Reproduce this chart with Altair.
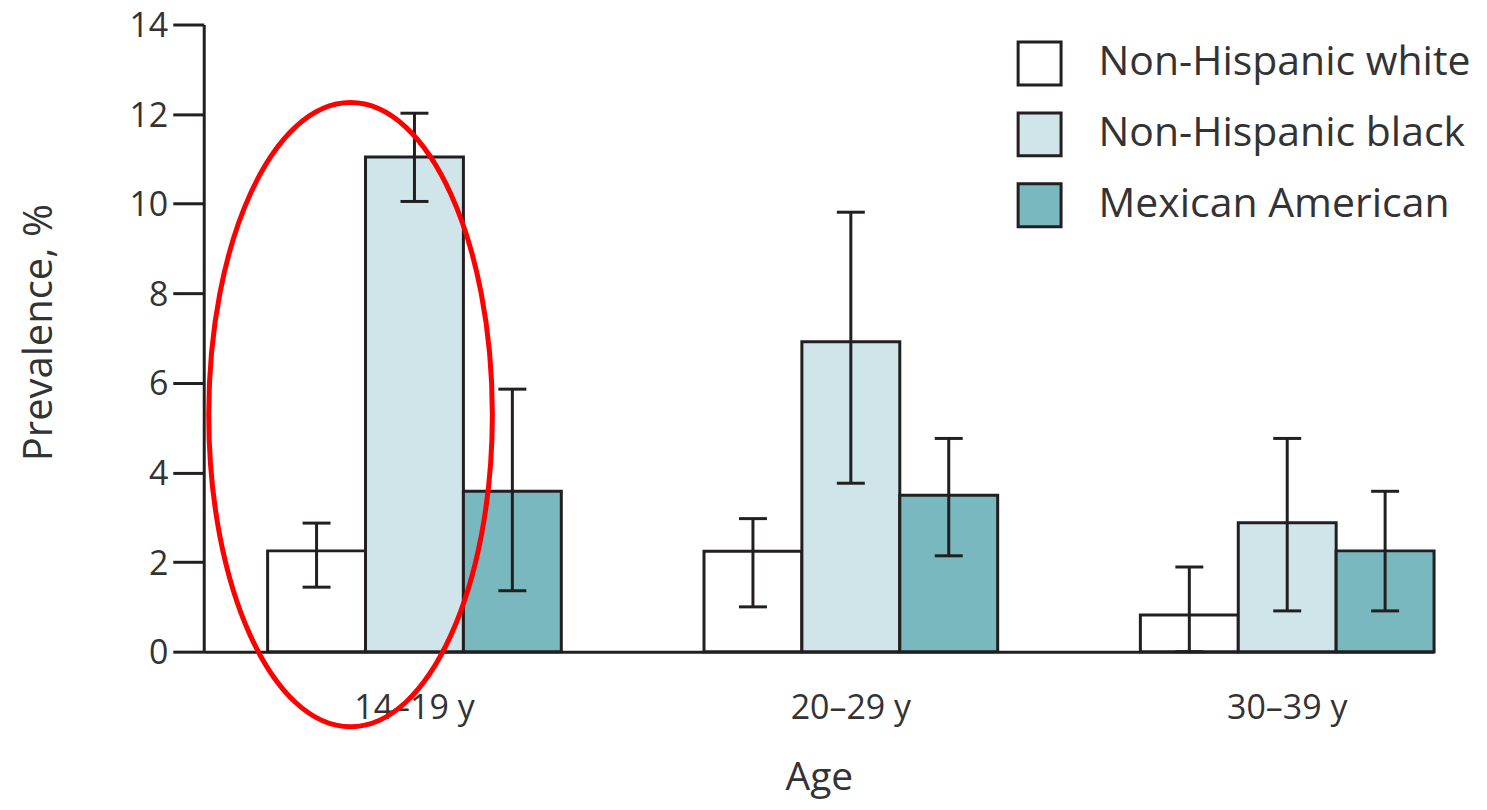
import altair as alt
import pandas as pd

groups = ["14–19 y", "20–29 y", "30–39 y"]
series = ["Non-Hispanic white", "Non-Hispanic black", "Mexican American"]

white = [2.25, 2.24, 0.82]
white_lo = [1.44, 1.00, 0.00]
white_hi = [2.87, 2.97, 1.89]

black = [11.04, 6.92, 2.88]
black_lo = [10.05, 3.76, 0.91]
black_hi = [12.02, 9.81, 4.76]

mexican = [3.58, 3.49, 2.25]
mexican_lo = [1.36, 2.14, 0.91]
mexican_hi = [5.86, 4.76, 3.58]

colors = ["#ffffff", "#cfe5ea", "#78b8be"]

# highlighted group (annotation ellipse), centred on this category/value
highlight_group = ["14–19 y"]
highlight_value = [5.29]

rows = []
for s, vals, los, his in [
    (series[0], white, white_lo, white_hi),
    (series[1], black, black_lo, black_hi),
    (series[2], mexican, mexican_lo, mexican_hi),
]:
    for g, v, lo, hi in zip(groups, vals, los, his):
        rows.append({"Age": g, "Group": s, "value": v, "lo": lo, "hi": hi})
df = pd.DataFrame(rows)
ell_df = pd.DataFrame({"Age": highlight_group, "value": highlight_value})

INK = "#231f20"
TXT = "#333333"
FONT = "Open Sans"

W, H = 1232, 628

xscale = alt.Scale(domain=groups, paddingInner=0.327, paddingOuter=0.0732, align=1)
xoff = alt.Scale(domain=series, paddingInner=0, paddingOuter=0)
yscale = alt.Scale(domain=[0, 14], nice=False)

x_enc = alt.X(
    "Age:N",
    scale=xscale,
    sort=groups,
    axis=alt.Axis(
        title="Age",
        labelAngle=0,
        ticks=False,
        tickSize=0,
        labelPadding=40,
        labelFontSize=34,
        labelFont=FONT,
        labelColor=TXT,
        domainColor=INK,
        domainWidth=3,
        titleFont=FONT,
        titleFontSize=39,
        titleFontWeight="normal",
        titleColor=TXT,
        titleBaseline="alphabetic",
        titleY=138,
    ),
)

y_axis = alt.Axis(
    title="Prevalence, %",
    values=[0, 2, 4, 6, 8, 10, 12, 14],
    grid=False,
    tickSize=31,
    tickWidth=3,
    tickColor=INK,
    domainColor=INK,
    domainWidth=3,
    labelPadding=5,
    labelOffset=2,
    labelFontSize=34,
    labelFont=FONT,
    labelColor=TXT,
    titleFont=FONT,
    titleFontSize=40,
    titleFontWeight="normal",
    titleColor=TXT,
    titleAngle=270,
    titleAlign="center",
    titleBaseline="middle",
    titleX=-164,
    titleY=308,
)

bars = alt.Chart(df).mark_bar(stroke=INK, strokeWidth=3, opacity=1).encode(
    x=x_enc,
    xOffset=alt.XOffset("Group:N", scale=xoff, sort=series),
    y=alt.Y("value:Q", scale=yscale, axis=y_axis),
    fill=alt.Fill(
        "Group:N",
        scale=alt.Scale(domain=series, range=colors),
        sort=series,
        legend=alt.Legend(
            title=None,
            orient="none",
            legendX=814,
            legendY=16,
            padding=0,
            symbolType="square",
            symbolSize=1849,
            symbolStrokeWidth=3,
            symbolStrokeColor=INK,
            symbolOpacity=1,
            labelFont=FONT,
            labelFontSize=41,
            labelColor=TXT,
            labelOffset=36,
            rowPadding=15,
            labelLimit=600,
        ),
    ),
)

rules = alt.Chart(df).mark_rule(color=INK, strokeWidth=3).encode(
    x=alt.X("Age:N", scale=xscale, sort=groups),
    xOffset=alt.XOffset("Group:N", scale=xoff, sort=series),
    y=alt.Y("lo:Q", scale=yscale),
    y2="hi:Q",
)

caps_lo = alt.Chart(df).mark_tick(color=INK, thickness=3, size=28, orient="horizontal", opacity=1).encode(
    x=alt.X("Age:N", scale=xscale, sort=groups),
    xOffset=alt.XOffset("Group:N", scale=xoff, sort=series),
    y=alt.Y("lo:Q", scale=yscale),
)
caps_hi = alt.Chart(df).mark_tick(color=INK, thickness=3, size=28, orient="horizontal", opacity=1).encode(
    x=alt.X("Age:N", scale=xscale, sort=groups),
    xOffset=alt.XOffset("Group:N", scale=xoff, sort=series),
    y=alt.Y("hi:Q", scale=yscale),
)

ellipse_path = "M -0.6592 0 A 0.4544 1 0 1 0 0.2496 0 A 0.4544 1 0 1 0 -0.6592 0 Z"
ellipse = alt.Chart(ell_df).mark_point(
    shape=ellipse_path,
    size=390625,
    filled=False,
    stroke="#ff0000",
    strokeWidth=5,
    opacity=1,
).encode(
    x=alt.X("Age:N", scale=xscale, sort=groups),
    y=alt.Y("value:Q", scale=yscale),
)

chart = (
    alt.layer(bars, rules, caps_lo, caps_hi, ellipse)
    .properties(
        width=W,
        height=H,
        background="white",
        autosize=alt.AutoSizeParams(type="none"),
        padding={"left": 196, "top": 16, "right": 45, "bottom": 150},
    )
    .configure_view(stroke="transparent", strokeWidth=0)
)

chart.save("out.html", embed_options={"renderer": "svg", "actions": False})
